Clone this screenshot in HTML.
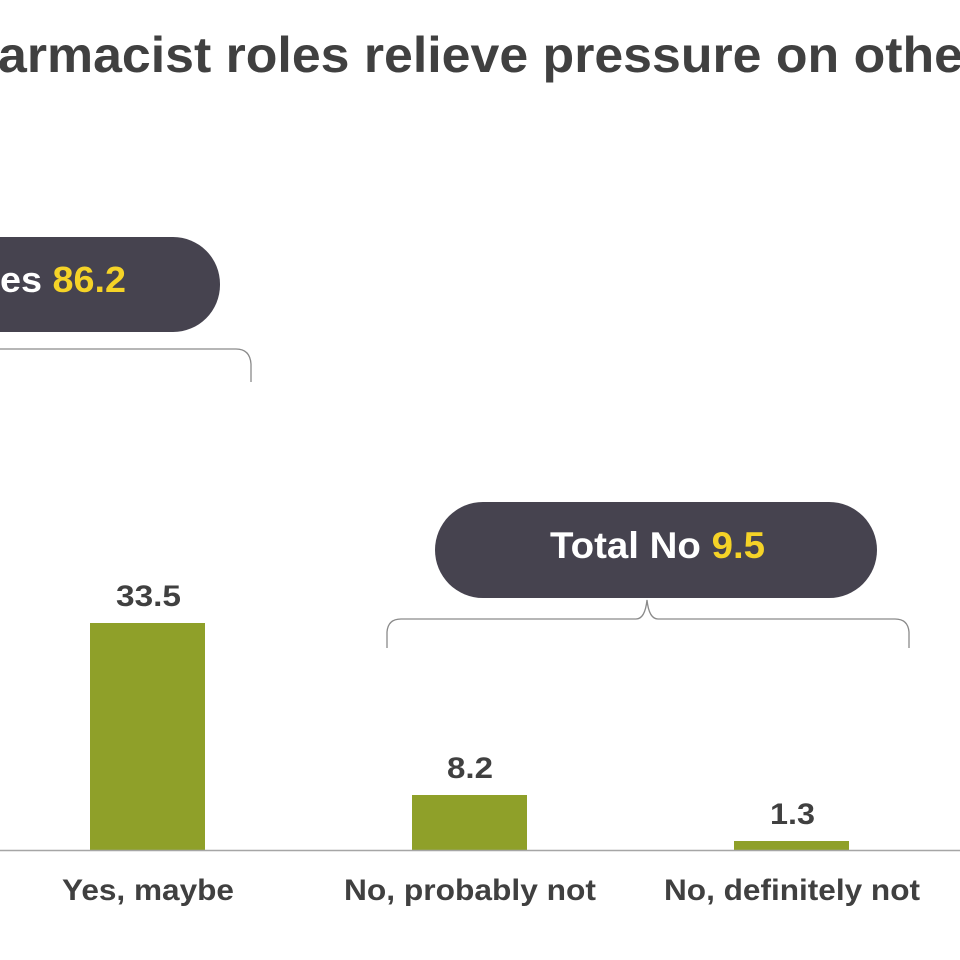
<!DOCTYPE html>
<html><head><style>
body{margin:0;background:#fff;width:960px;height:960px;overflow:hidden;font-family:"Liberation Sans",Arial,sans-serif}
</style></head><body>
<svg width="960" height="960" xmlns="http://www.w3.org/2000/svg" style="position:absolute;left:0;top:0">
<text x="-2" y="72" font-size="50" font-weight="bold" fill="#404040" textLength="965" lengthAdjust="spacingAndGlyphs" font-family="Liberation Sans, Arial, sans-serif">armacist roles relieve pressure on othe</text>
<rect x="-100" y="237" width="320" height="95" rx="47" fill="#46434f"/>
<text x="0" y="292" font-size="36" font-weight="bold" fill="#fff" textLength="126" lengthAdjust="spacingAndGlyphs" font-family="Liberation Sans, Arial, sans-serif">es <tspan fill="#f5d327">86.2</tspan></text>
<path d="M0 349 H236 Q250 349 251 364 V382" fill="none" stroke="#8a8a8a" stroke-width="1.3"/>
<rect x="435" y="502" width="442" height="96" rx="48" fill="#46434f"/>
<text x="550" y="558" font-size="37" font-weight="bold" fill="#fff" textLength="215" lengthAdjust="spacingAndGlyphs" font-family="Liberation Sans, Arial, sans-serif">Total No <tspan fill="#f5d327">9.5</tspan></text>
<path d="M387 648 V632 Q388 619 401 619 H636 Q645 619 647 600 Q649 619 658 619 H895 Q908 619 909 632 V648" fill="none" stroke="#8a8a8a" stroke-width="1.3"/>
<rect x="90" y="623" width="115" height="227" fill="#8fa029"/>
<rect x="412" y="795" width="115" height="55" fill="#8fa029"/>
<rect x="734" y="841" width="115" height="9" fill="#8fa029"/>
<line x1="0" y1="850.5" x2="960" y2="850.5" stroke="#a6a6a6" stroke-width="1.5"/>
<g font-size="30" font-weight="bold" fill="#404040" font-family="Liberation Sans, Arial, sans-serif">
<text x="116" y="606" textLength="65" lengthAdjust="spacingAndGlyphs">33.5</text>
<text x="447" y="778" textLength="46" lengthAdjust="spacingAndGlyphs">8.2</text>
<text x="770" y="824" textLength="45" lengthAdjust="spacingAndGlyphs">1.3</text>
<text x="62" y="900" textLength="172" lengthAdjust="spacingAndGlyphs">Yes, maybe</text>
<text x="344" y="900" textLength="252" lengthAdjust="spacingAndGlyphs">No, probably not</text>
<text x="664" y="900" textLength="256" lengthAdjust="spacingAndGlyphs">No, definitely not</text>
</g>
</svg>
</body></html>
